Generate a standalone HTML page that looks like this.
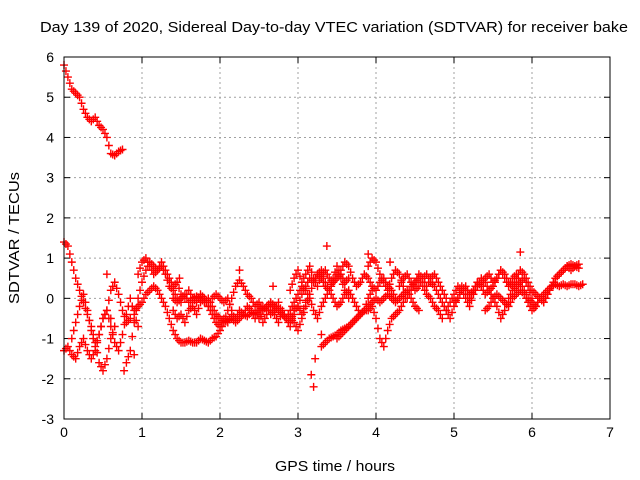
<!DOCTYPE html>
<html><head><meta charset="utf-8"><style>
body{margin:0;background:#fff}
svg{display:block;font-family:"Liberation Sans",sans-serif}
</style></head><body>
<svg id="chart" width="640" height="480">
<rect width="640" height="480" fill="#fff"/>
<text x="40" y="32" font-size="15" textLength="588" lengthAdjust="spacingAndGlyphs">Day 139 of 2020, Sidereal Day-to-day VTEC variation (SDTVAR) for receiver bake</text>
<g id="grid"></g>
<g id="axes"></g>
<g id="points"></g>
<rect x="64" y="57" width="546" height="362" fill="none" stroke="#000"/>
<text x="275" y="471" font-size="15" textLength="120" lengthAdjust="spacingAndGlyphs">GPS time / hours</text>
<text x="0" y="0" font-size="15" text-anchor="middle" textLength="132" lengthAdjust="spacingAndGlyphs" transform="translate(19,238) rotate(-90)">SDTVAR / TECUs</text>
</svg>
<script>
const xTicks=[0,1,2,3,4,5,6,7];
const yTicks=[-3,-2,-1,0,1,2,3,4,5,6];
const step=0.05;
const trackStarts=[0,0,0,0.8,0.9,1.4,2.5,3.3,3.5,4.3,5.0,5.4,2.9,2.9,3.0,3.9,4.9,0.95,1.4,0.1];
const trackA=[5.8,5.5,5.2,5.1,5.0,4.7,4.5,4.4,4.5,4.3,4.2,4.0,3.6,3.55,3.65,3.7];
const trackB=[1.4,1.3,0.9,0.5,0.2,-0.1,-0.4,-0.7,-1.1,-1.6,-1.8,-1.5,-1.0,-0.7];
const trackC=[-1.3,-1.2,-1.4,-1.5,-1.2,-1.0,-1.3,-1.5,-1.3,-0.9,-0.5,-0.3,0.2,0.4,0.1,-0.3,-0.6,-0.5];
const trackD=[-1.6,-1.3,-0.6,0.0,0.4,0.7,0.9,0.8,0.7,0.8,0.6,0.3,0.2,0.0,-0.1];
const trackE=[-0.3,-0.2,-0.1,0.1,0.2,0.3,0.2,0.0,-0.2,-0.5,-0.8,-1.0,-1.1,-1.1,-1.05,-1.1,-1.1,-1.0,-1.05,-1.1,-1.0,-0.95,-0.8,-0.6,-0.3,0.0,0.3,0.45,0.3,0.1,0.0,-0.2,-0.1,-0.3,-0.2,-0.1,-0.2];
const trackF=[0.0,-0.1,0.0,0.1,-0.1,0.0,0.05,0.0,-0.1,0.0,-0.2,-0.4,-0.5,-0.6,-0.55,-0.5,-0.6,-0.5,-0.4,-0.45,-0.35,-0.4,-0.3,-0.2,-0.3,-0.1,-0.2,-0.3,-0.4,-0.5,-0.3,-0.1,0.1,0.3,0.2,0.0];
const trackG=[-0.5,-0.3,-0.2,-0.4,-0.3,-0.1,-0.4,-0.5,-0.6,-0.3,-0.2,0.1,0.3,0.5,0.4,0.6,0.5,0.3,0.2,0.4,0.5,0.7,0.9,0.8,0.5,0.3,0.4,0.6,0.5,0.3,0.2,0.4,0.5,0.3,0.2,0.0];
const trackH=[-1.2,-1.1,-1.0,-0.95,-0.9,-0.8,-0.75,-0.7,-0.6,-0.5,-0.4,-0.3,-0.2,-0.1,0.0,-0.1,0.0,0.1,0.0,-0.1,0.0,0.1,0.2,0.0,-0.2,-0.3];
const trackI=[-1.0,-0.9,-0.8,-0.7,-0.6,-0.5,-0.4,-0.3,-0.3,-0.2,-0.5,-1.0,-1.2,-0.8,-0.5,-0.4,-0.3,-0.1,0.1,0.3,0.4,0.5,0.3,0.1,0.0,-0.2,-0.3,-0.5];
const trackJ=[0.3,0.5,0.6,0.4,0.2,0.3,0.5,0.6,0.4,0.3,0.1,-0.1,-0.3,-0.5,-0.2,0.0,0.3,0.2,0.0,0.2,0.4,0.3,0.1,0.2,0.0,-0.2,-0.5,-0.3,0.0,0.2,0.3,0.4,0.5,0.3,0.0];
const trackK=[-0.1,0.0,0.2,0.3,0.1,0.2,0.4,0.3,0.5,0.6,0.4,0.5,0.7,0.5,0.3,0.5,0.6,0.4,0.2,0.0,-0.1,-0.2,0.0,-0.1,0.1,0.3,0.5,0.6,0.7,0.8,0.85,0.8,0.85];
const trackL=[-0.3,-0.2,0.0,0.1,0.0,-0.1,-0.2,0.0,0.1,0.2,0.1,-0.1,-0.3,-0.2,0.0,0.1,0.2,0.3,0.35,0.3,0.35,0.3,0.35,0.35,0.3,0.35];
const trackM=[-0.4,-0.6,-0.8,-0.5,-0.2,0.1,0.4,0.6,0.7,0.4,0.2,0.5,0.8,0.6,0.4,0.5];
const trackN=[0.2,0.5,0.7,0.4,0.6,0.8,0.5,0.3,0.6,0.7,0.5,0.4,0.6,0.5,0.2,0.0];
const trackO=[-0.2,-0.4,-0.1,0.0,-0.3,-0.5,-0.2,0.0,0.2,0.0,-0.2,-0.1,0.1,0.2,0.0,-0.2,-0.4,-0.3,0.0,0.2];
const trackP=[0.8,1.0,0.9,0.6,0.4,0.2,0.5,0.7,0.6,0.3,0.0,0.2,0.4,0.6,0.5,0.3,0.5,0.6,0.4,0.2,0.0];
const trackQ=[-0.3,-0.1,0.1,0.3,0.2,0.0,-0.2,0.1,0.3,0.5,0.4,0.2,0.3,0.5,0.7,0.6,0.4,0.3,0.5,0.7,0.6,0.4,0.2,0.1,0.0,-0.1,0.1,0.3,0.5,0.6,0.7,0.8,0.7,0.8,0.75];
const trackR=[0.6,0.9,1.0,0.8,0.6,0.7,0.9,0.7,0.5,0.3,0.4,0.1,0.0,0.2,0.0,-0.1,0.1,0.0,-0.2,0.0,0.1,0.0,-0.1,0.0,-0.3];
const trackS=[-0.3,-0.5,-0.4,-0.6,-0.3,-0.2,-0.4,-0.1,0.0,-0.2,-0.4,-0.6,-0.7,-0.5,-0.6,-0.4,-0.5,-0.3,-0.4,-0.2,-0.3,-0.5,-0.3,-0.6,-0.4,-0.2,-0.4,-0.6,-0.3,-0.5,-0.7,-0.4];
const trackT=[-1.0,-0.6,-0.2,0.1,-0.3,-0.8,-1.2,-0.9,-0.5,-0.3,-0.7,-1.1,-1.3,-0.9,-0.4,0.0,-0.4,-0.7];
const outlierT=[3.17,3.2,3.22,3.37,0.77,0.6,0.9,3.9,4.18,5.85,2.25,2.68,0.55,1.48,3.3];
const outlierV=[-1.9,-2.2,-1.5,1.3,-1.8,-0.5,-1.4,1.1,0.9,1.15,0.7,0.3,0.6,0.5,-0.9];

const tracks=[trackA,trackB,trackC,trackD,trackE,trackF,trackG,trackH,trackI,trackJ,trackK,trackL,trackM,trackN,trackO,trackP,trackQ,trackR,trackS,trackT];
const X0=64,X1=610,Y0=419,Y1=57;
function xs(t){return X0+(t-0)/(7-0)*(X1-X0);}
function ys(v){return Y0-(v+3)/9*(Y0-Y1);}
const NS="http://www.w3.org/2000/svg";
function mk(tag,attrs,parent){const e=document.createElementNS(NS,tag);for(const k in attrs)e.setAttribute(k,attrs[k]);parent.appendChild(e);return e;}
const grid=document.getElementById('grid'),axes=document.getElementById('axes'),pts=document.getElementById('points');
xTicks.forEach(t=>{
  const x=xs(t);
  if(t>0&&t<7){const g=mk('line',{x1:x,x2:x,y1:Y0,y2:Y1,stroke:'#a0a0a0','stroke-dasharray':'2,3'},grid);
  
  }
  mk('line',{x1:x,x2:x,y1:Y0,y2:Y0-6,stroke:'#000'},axes);
  mk('line',{x1:x,x2:x,y1:Y1,y2:Y1+6,stroke:'#000'},axes);
  const l=mk('text',{x:x,y:Y0+18,'font-size':14,'text-anchor':'middle'},axes);l.textContent=t;
  
  
});
yTicks.forEach(v=>{
  const y=ys(v);
  if(v>-3&&v<6){const g=mk('line',{x1:X0,x2:X1,y1:y,y2:y,stroke:'#a0a0a0','stroke-dasharray':'2,3'},grid);
  
  }
  mk('line',{x1:X0,x2:X0+6,y1:y,y2:y,stroke:'#000'},axes);
  mk('line',{x1:X1,x2:X1-6,y1:y,y2:y,stroke:'#000'},axes);
  const l=mk('text',{x:X0-10,y:y+5,'font-size':14,'text-anchor':'end'},axes);l.textContent=v;
  
  
});
function plus(t,v){
  const x=xs(t),y=ys(v);
  const p=mk('path',{d:`M${x-4},${y}h8M${x},${y-4}v8`,stroke:'#f00','stroke-width':1.4,fill:'none'},pts);
  
  
}
tracks.forEach((tr,k)=>{
  tr.forEach((v,i)=>{
    plus(trackStarts[k]+i*step,v);
    if(i+1<tr.length){plus(trackStarts[k]+(i+0.5)*step,(v+tr[i+1])/2);}
  });
});
outlierT.forEach((t,i)=>plus(t,outlierV[i]));
</script>
</body></html>
